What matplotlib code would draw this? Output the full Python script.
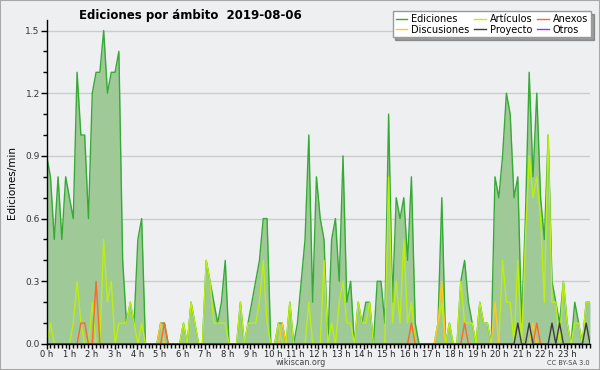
import numpy as np
import matplotlib
matplotlib.use("Agg")
import matplotlib.pyplot as plt
from matplotlib.ticker import MultipleLocator, FixedLocator
from matplotlib.patches import Rectangle

# edits per minute, one value per 10 minutes (00:00 .. 23:50)
ediciones = [
    0.9, 0.8, 0.5, 0.8, 0.5, 0.8, 0.7, 0.6, 1.3, 1.0, 1.0, 0.6,
    1.2, 1.3, 1.3, 1.5, 1.2, 1.3, 1.3, 1.4, 0.4, 0.1, 0.2, 0.1,
    0.5, 0.6, 0.0, 0.0, 0.0, 0.0, 0.1, 0.1, 0.0, 0.0, 0.0, 0.0,
    0.1, 0.0, 0.2, 0.1, 0.0, 0.0, 0.4, 0.3, 0.2, 0.1, 0.2, 0.4,
    0.0, 0.0, 0.0, 0.2, 0.0, 0.1, 0.2, 0.3, 0.4, 0.6, 0.6, 0.0,
    0.0, 0.1, 0.1, 0.0, 0.2, 0.0, 0.1, 0.3, 0.5, 1.0, 0.2, 0.8,
    0.6, 0.5, 0.0, 0.5, 0.6, 0.3, 0.9, 0.2, 0.3, 0.0, 0.2, 0.1,
    0.2, 0.2, 0.0, 0.3, 0.3, 0.1, 1.1, 0.2, 0.7, 0.6, 0.7, 0.4,
    0.8, 0.1, 0.0, 0.0, 0.0, 0.0, 0.0, 0.1, 0.7, 0.0, 0.1, 0.0,
    0.0, 0.3, 0.4, 0.2, 0.1, 0.0, 0.2, 0.1, 0.1, 0.0, 0.8, 0.7,
    0.9, 1.2, 1.1, 0.7, 0.8, 0.1, 0.6, 1.3, 0.8, 1.2, 0.7, 0.5,
    1.0, 0.3, 0.2, 0.1, 0.3, 0.1, 0.0, 0.2, 0.1, 0.0, 0.2, 0.2,
]
articulos = [
    0.0, 0.1, 0.0, 0.0, 0.0, 0.0, 0.0, 0.1, 0.3, 0.1, 0.0, 0.0,
    0.2, 0.0, 0.0, 0.5, 0.2, 0.3, 0.0, 0.1, 0.1, 0.1, 0.2, 0.1,
    0.0, 0.1, 0.0, 0.0, 0.0, 0.0, 0.0, 0.0, 0.0, 0.0, 0.0, 0.0,
    0.1, 0.0, 0.2, 0.1, 0.0, 0.0, 0.4, 0.3, 0.1, 0.1, 0.1, 0.1,
    0.0, 0.0, 0.0, 0.2, 0.0, 0.1, 0.1, 0.1, 0.2, 0.4, 0.1, 0.0,
    0.0, 0.1, 0.0, 0.0, 0.2, 0.0, 0.0, 0.0, 0.0, 0.2, 0.0, 0.0,
    0.0, 0.4, 0.0, 0.1, 0.0, 0.2, 0.3, 0.1, 0.1, 0.0, 0.2, 0.1,
    0.1, 0.2, 0.0, 0.0, 0.0, 0.0, 0.8, 0.1, 0.3, 0.1, 0.5, 0.1,
    0.2, 0.0, 0.0, 0.0, 0.0, 0.0, 0.0, 0.1, 0.2, 0.0, 0.1, 0.0,
    0.0, 0.3, 0.1, 0.1, 0.1, 0.0, 0.2, 0.1, 0.1, 0.0, 0.0, 0.0,
    0.4, 0.2, 0.2, 0.0, 0.4, 0.0, 0.5, 0.9, 0.7, 0.8, 0.6, 0.2,
    1.0, 0.2, 0.2, 0.0, 0.3, 0.1, 0.0, 0.1, 0.1, 0.0, 0.2, 0.2,
]
# sparse series: {slot index: value}
anexos_pts = {9: 0.1, 10: 0.1, 13: 0.3, 31: 0.1, 96: 0.1, 110: 0.1, 129: 0.1}
discusiones_pts = {30: 0.1, 62: 0.1, 103: 0.1, 104: 0.3, 118: 0.2, 128: 0.1}
proyecto_pts = {124: 0.1, 127: 0.1, 133: 0.1, 135: 0.1, 142: 0.1}
otros_pts = {}

hour_labels = ["%d h" % h for h in range(24)]
y_ticks = [0.0, 0.3, 0.6, 0.9, 1.2, 1.5]

n = len(ediciones)


def sparse(pts):
    s = np.zeros(n)
    for k, v in pts.items():
        s[k] = v
    return s


anexos = sparse(anexos_pts)
discusiones = sparse(discusiones_pts)
proyecto = sparse(proyecto_pts)
otros = sparse(otros_pts)

x = np.linspace(0, 24, n)

bg = "#eeeff1"
fig = plt.figure(figsize=(6, 3.7), dpi=100, facecolor=bg)
fig.patches.append(Rectangle((0, 0), 1, 1, transform=fig.transFigure,
                             fill=False, edgecolor="#a8a8a8", lw=1.5))

ax = fig.add_axes([0.0778, 0.0703, 0.9055, 0.8755])
ax.set_facecolor(bg)

ax.fill_between(x, 0, ediciones, color="#9fca98", lw=0)
l_ed, = ax.plot(x, ediciones, color="#35aa35", lw=1.0, label="Ediciones")
l_art, = ax.plot(x, articulos, color="#bbee11", lw=1.0, label="Artículos")
l_dis, = ax.plot(x, discusiones, color="#ffc81e", lw=1.0, label="Discusiones")
l_anx, = ax.plot(x, anexos, color="#ff6628", lw=1.0, label="Anexos")
l_pro, = ax.plot(x, proyecto, color="#3c3c3c", lw=1.0, label="Proyecto")
l_otr, = ax.plot(x, otros, color="#9933ee", lw=1.0, label="Otros")

ax.set_xlim(0, 24)
ax.set_ylim(0, 1.55)
for side in ["top", "right"]:
    ax.spines[side].set_visible(False)
ax.spines["left"].set_linewidth(1.0)
ax.spines["bottom"].set_linewidth(1.0)

ax.set_yticks(y_ticks)
ax.set_yticklabels(["%.1f" % v for v in y_ticks])
ax.yaxis.set_minor_locator(MultipleLocator(0.1))
ax.set_xticks(np.arange(24))
ax.set_xticklabels(hour_labels)
ax.xaxis.set_minor_locator(FixedLocator(np.arange(0, 24.01, 1 / 6)))
ax.tick_params(axis="x", which="major", length=3.5, width=1, labelsize=6,
               pad=0.5, colors="black", labelcolor="#222222")
ax.tick_params(axis="x", which="minor", length=3, width=1)
ax.tick_params(axis="y", which="major", length=4, width=1, labelsize=6.5,
               pad=1, labelcolor="#333333")
ax.tick_params(axis="y", which="minor", length=3, width=1)

ax.grid(axis="y", color="#cccccc", lw=1.0)
ax.set_axisbelow(True)

ax.set_ylabel("Ediciones/min", fontsize=7.5, labelpad=6)

fig.text(0.318, 0.958, "Ediciones por ámbito  2019-08-06", ha="center",
         va="center", fontsize=8.5, fontweight="bold")
fig.text(0.502, 0.02, "wikiscan.org", ha="center", va="center",
         fontsize=5.8, color="#444444")
fig.text(0.982, 0.02, "CC BY-SA 3.0", ha="right", va="center",
         fontsize=4.8, color="#444444")

handles = [l_ed, l_dis, l_art, l_pro, l_anx, l_otr]
leg = fig.legend(handles=handles, ncol=3, loc="upper right",
                 bbox_to_anchor=(0.985, 0.97), fontsize=7, frameon=True,
                 fancybox=False, shadow=True, handlelength=1.2,
                 handletextpad=0.4, columnspacing=0.5, labelspacing=0.05,
                 borderpad=0.3, borderaxespad=0)
leg.get_frame().set_edgecolor("#999999")
leg.get_frame().set_linewidth(1.0)

fig.savefig("out.png", dpi=100, facecolor=bg)
